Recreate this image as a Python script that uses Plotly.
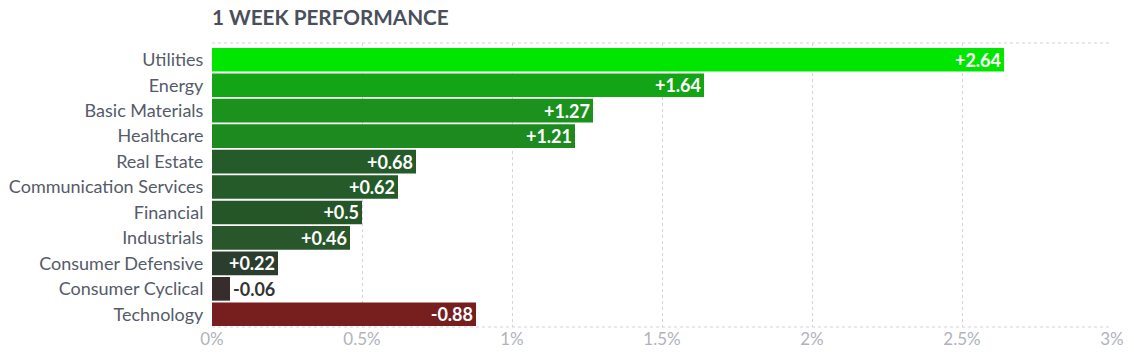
import plotly.graph_objects as go

sectors = ["Utilities", "Energy", "Basic Materials", "Healthcare", "Real Estate",
           "Communication Services", "Financial", "Industrials", "Consumer Defensive",
           "Consumer Cyclical", "Technology"]
changes = [2.64, 1.64, 1.27, 1.21, 0.68, 0.62, 0.5, 0.46, 0.22, -0.06, -0.88]
bar_colors = ["#00e600", "#13a515", "#1b911e", "#1d8a20", "#245b28", "#245b28",
              "#255627", "#2a562c", "#2b3e2e", "#372d2d", "#771e1f"]
tick_vals = [0, 0.5, 1, 1.5, 2, 2.5, 3]
tick_text = ["0%", "0.5%", "1%", "1.5%", "2%", "2.5%", "3%"]

labels = [("+" if v > 0 else "") + f"{v:g}" for v in changes]
positions = ["outside" if abs(v) < 0.15 else "inside" for v in changes]

# page body has an 8px margin: compensate
OFF = 8
W, H = 1134 - OFF, 355 - OFF
L, R_EDGE, T, B_EDGE = 212 - OFF, 1112.5 - OFF, 43 - OFF, 327 - OFF
GRID = "#d3d3d8"
DASH = "3px,3px"

fig = go.Figure(go.Bar(
    x=[abs(v) for v in changes],
    y=list(range(len(sectors))),
    orientation="h",
    marker=dict(color=bar_colors, line=dict(width=0)),
    width=0.93,
    text=labels,
    textposition=positions,
    insidetextanchor="end",
    constraintext="none",
    textangle=0,
    insidetextfont=dict(family="Lato", size=18, color="#ffffff", weight="bold"),
    outsidetextfont=dict(family="Lato", size=18, color="#333333", weight="bold"),
    cliponaxis=False,
    hoverinfo="skip",
))

fig.update_layout(
    width=W, height=H,
    margin=dict(l=L, r=W - R_EDGE, t=T, b=H - B_EDGE, pad=0),
    paper_bgcolor="white", plot_bgcolor="white",
    showlegend=False,
    title=dict(text="<b>1 WEEK PERFORMANCE</b>", x=L / W, xanchor="left",
               y=1 - (17.5 - OFF) / H, yanchor="middle", automargin=False,
               font=dict(family="Lato", size=20.7, color="#4a4f5c")),
    xaxis=dict(range=[0, 3], tickvals=tick_vals, ticktext=tick_text,
               showgrid=True, gridcolor=GRID, griddash=DASH, gridwidth=1,
               zeroline=False, showline=False, automargin=False,
               tickfont=dict(family="Lato", size=17, color="#b0b3bc"),
               ticks=""),
    yaxis=dict(range=[10.5, 10.5 - 284 / 25.45], tickvals=list(range(len(sectors))),
               ticktext=sectors, showgrid=False, zeroline=False, showline=False,
               automargin=False,
               tickfont=dict(family="Lato", size=18, color="#555b6a"),
               ticks="outside", ticklen=4, tickcolor="rgba(0,0,0,0)"),
    shapes=[
        dict(type="line", xref="paper", yref="paper", x0=0, x1=1, y0=1, y1=1,
             line=dict(color=GRID, width=1, dash=DASH), layer="below"),
        dict(type="line", xref="paper", yref="paper", x0=0, x1=1, y0=0, y1=0,
             line=dict(color=GRID, width=1, dash=DASH), layer="below"),
    ],
)

fig.write_html("out.html")
